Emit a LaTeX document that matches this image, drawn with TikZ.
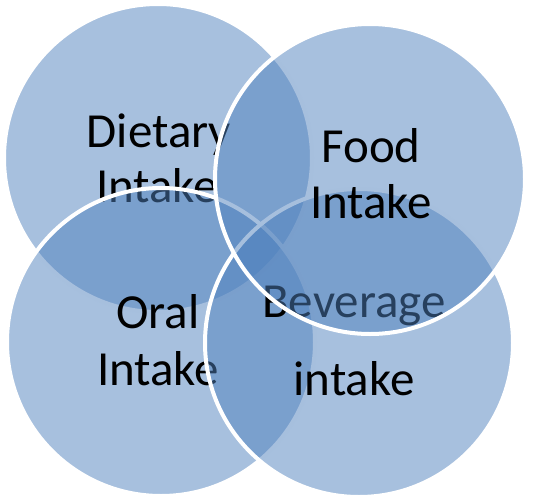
\documentclass[tikz,border=0pt]{standalone}
\usepackage{fontspec}
\setmainfont{Carlito}
\definecolor{accent}{HTML}{4F81BD}
\tikzset{
  venn/.style={circle, minimum size=308pt, inner sep=0pt, outer sep=0pt,
    fill=accent, fill opacity=0.5, draw=white, draw opacity=1, line width=4pt},
  lbl/.style={anchor=base, inner sep=0pt, text=black, font=\fontsize{49pt}{58pt}\selectfont}
}
\begin{document}
\begin{tikzpicture}[x=1pt,y=-1pt]
\useasboundingbox (0,0) rectangle (533,498);
% Dietary
\node[venn] (D) at (158,158) {};
\node[lbl] (d1) at (159,147) {Dietary};
\node[lbl] (d2) at (157,202) {Intake};
% Oral
\node[venn] (O) at (161,342) {};
\node[lbl] (o1) at (158,328) {Oral};
\node[lbl] (o2) at (158,385) {Intake};
% Beverage
\node[venn] (B) at (359,343) {};
\node[lbl] (b1) at (354,317) {Beverage};
\node[lbl] (b2) at (354,395) {intake};
% Food
\node[venn, minimum size=310pt] (F) at (370,179) {};
\node[lbl] (f1) at (371,162) {Food};
\node[lbl] (f2) at (371,218) {Intake};
\end{tikzpicture}
\end{document}
